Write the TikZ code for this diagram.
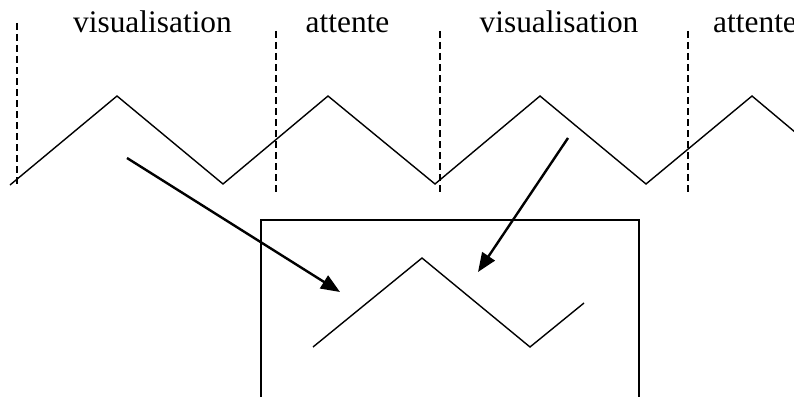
\documentclass[tikz,border=0pt]{standalone}
\usepackage{fontspec}
\setmainfont{Liberation Serif}
\usetikzlibrary{arrows.meta}
\begin{document}
\begin{tikzpicture}[x=1pt,y=-1pt,
  wave/.style={line width=1.4pt, line join=miter},
  sep/.style={line width=1.4pt, dash pattern=on 7pt off 4pt},
  frame/.style={line width=1.6pt},
  pointer/.style={line width=2.4pt, -{Triangle[length=19pt,width=15pt]}},
  lbl/.style={anchor=base, inner sep=0pt, font=\fontsize{31.4}{36}\selectfont}]
\useasboundingbox (0,0) rectangle (794,396);
\clip (0,0) rectangle (794,396);
% labels
\node[lbl] (v1) at (152.5,33) {visualisation};
\node[lbl] (a1) at (347.5,33) {attente};
\node[lbl] (v2) at (559,33) {visualisation};
\node[lbl, anchor=base west] (a2) at (713,33) {attente};
% separators
\draw[sep] (17,23) -- (17,186);
\draw[sep] (276,31) -- (276,192);
\draw[sep] (440,31) -- (440,192);
\draw[sep] (688,31) -- (688,192);
% wave
\draw[wave] (10,185) -- (117,96) -- (223,184) -- (328,96) -- (435,184) -- (540,96) -- (646,184) -- (752,96) -- (808,143);
% frame
\draw[frame] (261,420) -- (261,220) -- (639,220) -- (639,420);
% inner wave
\draw[wave] (313,347) -- (422,258) -- (530,347) -- (584,303);
% arrows
\coordinate (s1) at (127,158);
\coordinate (t1) at (340,292);
\coordinate (s2) at (568,138);
\coordinate (t2) at (478,272);
\draw[pointer] (s1) -- (t1);
\draw[pointer] (s2) -- (t2);
\end{tikzpicture}
\end{document}
